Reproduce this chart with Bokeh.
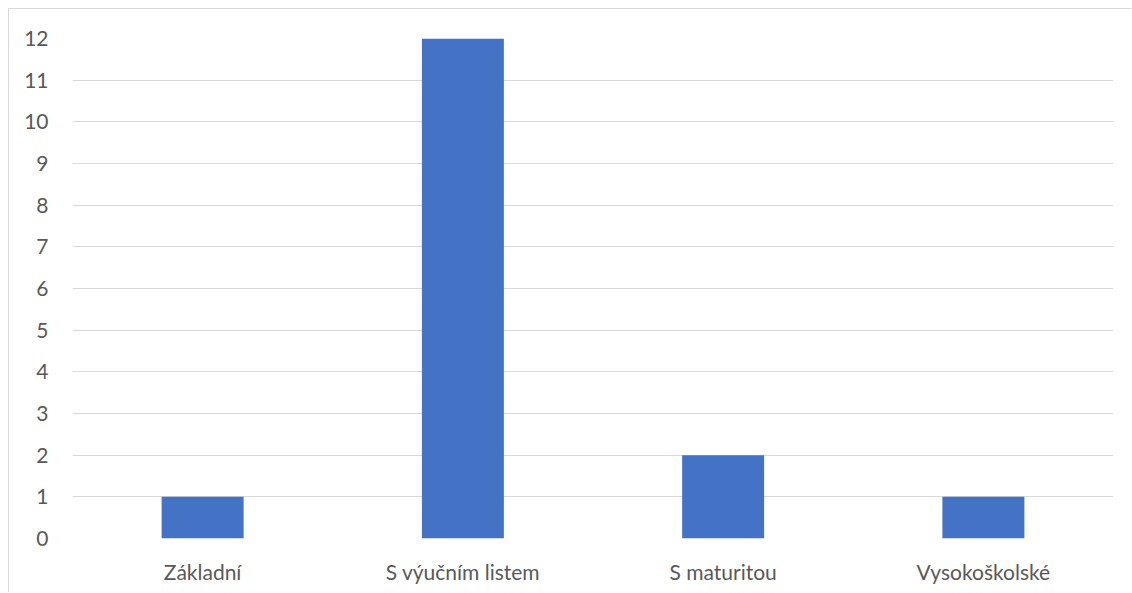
from bokeh.plotting import figure
from bokeh.models import FixedTicker, ColumnDataSource
from bokeh.embed import file_html
from bokeh.resources import INLINE

categories = ["Základní", "S výučním listem", "S maturitou", "Vysokoškolské"]
values = [1, 12, 2, 1]
y_ticks = list(range(0, 13))

src = ColumnDataSource(dict(cat=categories, val=values))

p = figure(x_range=categories, y_range=(0, 12), width=1123, height=584,
           output_backend="svg", toolbar_location=None,
           min_border_left=63, min_border_right=19, min_border_top=29, min_border_bottom=55)
p.vbar(x="cat", top="val", width=0.315, source=src, color="#4472c4", line_color=None)

p.outline_line_color = None
p.styles = {"margin-left": "8px", "margin-top": "8px",
            "border-left": "1px solid #d9d9d9", "border-top": "1px solid #d9d9d9"}
p.xgrid.grid_line_color = None
p.ygrid.grid_line_color = "#d9d9d9"
p.ygrid.grid_line_width = 1
p.yaxis.ticker = FixedTicker(ticks=y_ticks)

for ax in (p.xaxis, p.yaxis):
    ax.axis_line_color = None
    ax.major_tick_line_color = None
    ax.minor_tick_line_color = None
    ax.major_label_text_color = "#595959"
    ax.major_label_text_font = "Lato"
    ax.major_label_text_font_size = "21px"
p.xaxis.major_label_standoff = 14
p.yaxis.major_label_standoff = 18

open("out.html", "w").write(file_html(p, INLINE))
